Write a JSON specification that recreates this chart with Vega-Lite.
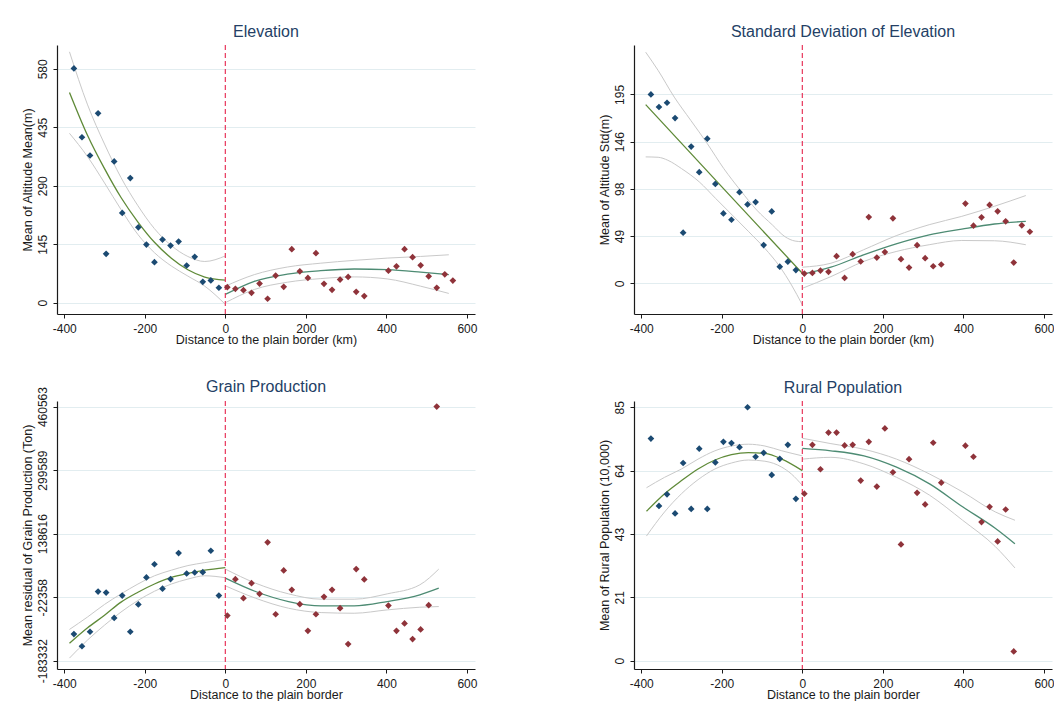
{
"$schema": "https://vega.github.io/schema/vega-lite/v6.json",
"background": "white",
"padding": {"left": 21, "top": 24, "right": 0, "bottom": 0},
"datasets": {
"a_pts": [
{"x":-376,"y":580.8,"side":"L"},{"x":-356,"y":410.3,"side":"L"},{"x":-336,"y":365,"side":"L"},{"x":-316,"y":469.6,"side":"L"},{"x":-296,"y":121.1,"side":"L"},{"x":-276,"y":350.2,"side":"L"},{"x":-256,"y":222.5,"side":"L"},{"x":-236,"y":309,"side":"L"},{"x":-216,"y":187,"side":"L"},{"x":-196,"y":144.2,"side":"L"},{"x":-176,"y":100.5,"side":"L"},{"x":-156,"y":156.5,"side":"L"},{"x":-136,"y":141.7,"side":"L"},{"x":-116,"y":151.6,"side":"L"},{"x":-96,"y":92.3,"side":"L"},{"x":-76,"y":113.7,"side":"L"},{"x":-56,"y":51.9,"side":"L"},{"x":-36,"y":55.2,"side":"L"},{"x":-16,"y":37.1,"side":"L"},
{"x":5,"y":38.5,"side":"R"},{"x":25,"y":34.4,"side":"R"},{"x":45,"y":31.1,"side":"R"},{"x":65,"y":24.6,"side":"R"},{"x":85,"y":47.5,"side":"R"},{"x":105,"y":9.8,"side":"R"},{"x":125,"y":67.2,"side":"R"},{"x":145,"y":39.3,"side":"R"},{"x":165,"y":132.7,"side":"R"},{"x":185,"y":77.8,"side":"R"},{"x":205,"y":61.4,"side":"R"},{"x":225,"y":122.9,"side":"R"},{"x":245,"y":46.7,"side":"R"},{"x":265,"y":32,"side":"R"},{"x":285,"y":57.3,"side":"R"},{"x":305,"y":63.9,"side":"R"},{"x":325,"y":27,"side":"R"},{"x":345,"y":16.4,"side":"R"},{"x":405,"y":79.5,"side":"R"},{"x":425,"y":90.1,"side":"R"},{"x":445,"y":132.7,"side":"R"},{"x":465,"y":113,"side":"R"},{"x":485,"y":92.6,"side":"R"},{"x":505,"y":65.5,"side":"R"},{"x":525,"y":36.9,"side":"R"},{"x":545,"y":70.5,"side":"R"},{"x":565,"y":54.9,"side":"R"}
],
"a_crv": [
{"x":-387,"y":521.5,"s":"Lfit"},{"x":-342,"y":414.7,"s":"Lfit"},{"x":-300,"y":332.4,"s":"Lfit"},{"x":-259,"y":260.8,"s":"Lfit"},{"x":-217,"y":200,"s":"Lfit"},{"x":-176,"y":149.8,"s":"Lfit"},{"x":-134,"y":110.3,"s":"Lfit"},{"x":-93,"y":81.6,"s":"Lfit"},{"x":-51,"y":63.5,"s":"Lfit"},{"x":0,"y":55.9,"s":"Lfit"},
{"x":-387,"y":622,"s":"Lhi"},{"x":-342,"y":490.5,"s":"Lhi"},{"x":-300,"y":393.4,"s":"Lhi"},{"x":-259,"y":310.2,"s":"Lhi"},{"x":-217,"y":240.4,"s":"Lhi"},{"x":-176,"y":183.6,"s":"Lhi"},{"x":-134,"y":141.6,"s":"Lhi"},{"x":-93,"y":114.6,"s":"Lhi"},{"x":-51,"y":102.2,"s":"Lhi"},{"x":0,"y":116,"s":"Lhi"},
{"x":-387,"y":420,"s":"Llo"},{"x":-342,"y":362,"s":"Llo"},{"x":-300,"y":297,"s":"Llo"},{"x":-259,"y":231,"s":"Llo"},{"x":-217,"y":169,"s":"Llo"},{"x":-176,"y":124,"s":"Llo"},{"x":-134,"y":91,"s":"Llo"},{"x":-93,"y":66,"s":"Llo"},{"x":-51,"y":41,"s":"Llo"},{"x":0,"y":-4,"s":"Llo"},
{"x":0,"y":20.5,"s":"Rfit"},{"x":72,"y":53,"s":"Rfit"},{"x":154,"y":71,"s":"Rfit"},{"x":237,"y":79.5,"s":"Rfit"},{"x":320,"y":83.6,"s":"Rfit"},{"x":402,"y":82,"s":"Rfit"},{"x":485,"y":76,"s":"Rfit"},{"x":555,"y":69.6,"s":"Rfit"},
{"x":0,"y":41,"s":"Rhi"},{"x":72,"y":69.6,"s":"Rhi"},{"x":154,"y":88.5,"s":"Rhi"},{"x":237,"y":98,"s":"Rhi"},{"x":320,"y":105,"s":"Rhi"},{"x":402,"y":110.6,"s":"Rhi"},{"x":485,"y":114.7,"s":"Rhi"},{"x":555,"y":118.8,"s":"Rhi"},
{"x":0,"y":0,"s":"Rlo"},{"x":72,"y":32.8,"s":"Rlo"},{"x":154,"y":50.8,"s":"Rlo"},{"x":237,"y":59.8,"s":"Rlo"},{"x":320,"y":64,"s":"Rlo"},{"x":402,"y":59,"s":"Rlo"},{"x":485,"y":41,"s":"Rlo"},{"x":555,"y":23,"s":"Rlo"}
],
"b_pts": [
{"x":-376,"y":195,"side":"L"},{"x":-356,"y":182,"side":"L"},{"x":-336,"y":186.4,"side":"L"},{"x":-316,"y":170.6,"side":"L"},{"x":-296,"y":52.2,"side":"L"},{"x":-276,"y":141.1,"side":"L"},{"x":-256,"y":114.7,"side":"L"},{"x":-236,"y":149.3,"side":"L"},{"x":-216,"y":102.6,"side":"L"},{"x":-196,"y":72.1,"side":"L"},{"x":-176,"y":65.6,"side":"L"},{"x":-156,"y":94.1,"side":"L"},{"x":-136,"y":81.4,"side":"L"},{"x":-116,"y":83.8,"side":"L"},{"x":-96,"y":39.5,"side":"L"},{"x":-76,"y":74.2,"side":"L"},{"x":-56,"y":17.2,"side":"L"},{"x":-36,"y":22.3,"side":"L"},{"x":-16,"y":13.7,"side":"L"},
{"x":5,"y":10,"side":"R"},{"x":25,"y":10.7,"side":"R"},{"x":45,"y":13.1,"side":"R"},{"x":65,"y":11.8,"side":"R"},{"x":85,"y":28,"side":"R"},{"x":105,"y":5.5,"side":"R"},{"x":125,"y":30.1,"side":"R"},{"x":145,"y":22.5,"side":"R"},{"x":165,"y":68.4,"side":"R"},{"x":185,"y":26.6,"side":"R"},{"x":205,"y":32.2,"side":"R"},{"x":225,"y":67.1,"side":"R"},{"x":245,"y":24.9,"side":"R"},{"x":265,"y":16.2,"side":"R"},{"x":285,"y":39.4,"side":"R"},{"x":305,"y":25.9,"side":"R"},{"x":325,"y":17.6,"side":"R"},{"x":345,"y":19.4,"side":"R"},{"x":405,"y":82.3,"side":"R"},{"x":425,"y":59.5,"side":"R"},{"x":445,"y":68.1,"side":"R"},{"x":465,"y":80.9,"side":"R"},{"x":485,"y":74.3,"side":"R"},{"x":505,"y":64,"side":"R"},{"x":525,"y":21.4,"side":"R"},{"x":545,"y":59.8,"side":"R"},{"x":565,"y":53.2,"side":"R"}
],
"b_crv": [
{"x":-389,"y":184.4,"s":"Lfit"},{"x":-194,"y":97,"s":"Lfit"},{"x":0,"y":10.3,"s":"Lfit"},
{"x":-389,"y":238.6,"s":"Lhi"},{"x":-358,"y":219.7,"s":"Lhi"},{"x":-318,"y":192.2,"s":"Lhi"},{"x":-277,"y":168.2,"s":"Lhi"},{"x":-236,"y":144.2,"s":"Lhi"},{"x":-195,"y":118.4,"s":"Lhi"},{"x":-154,"y":96.1,"s":"Lhi"},{"x":-113,"y":75.5,"s":"Lhi"},{"x":-74,"y":60.1,"s":"Lhi"},{"x":-43,"y":48.1,"s":"Lhi"},{"x":-18,"y":43.6,"s":"Lhi"},{"x":0,"y":42.9,"s":"Lhi"},
{"x":-389,"y":130.5,"s":"Llo"},{"x":-358,"y":130.1,"s":"Llo"},{"x":-334,"y":127,"s":"Llo"},{"x":-300,"y":118.4,"s":"Llo"},{"x":-256,"y":104.7,"s":"Llo"},{"x":-215,"y":87.5,"s":"Llo"},{"x":-174,"y":70.4,"s":"Llo"},{"x":-133,"y":53.2,"s":"Llo"},{"x":-93,"y":36,"s":"Llo"},{"x":-56,"y":17.2,"s":"Llo"},{"x":-27,"y":-1.7,"s":"Llo"},{"x":0,"y":-22.3,"s":"Llo"},
{"x":0,"y":9.3,"s":"Rfit"},{"x":71,"y":16.6,"s":"Rfit"},{"x":152,"y":29.4,"s":"Rfit"},{"x":233,"y":40.8,"s":"Rfit"},{"x":315,"y":50.1,"s":"Rfit"},{"x":396,"y":56,"s":"Rfit"},{"x":477,"y":61.2,"s":"Rfit"},{"x":555,"y":64,"s":"Rfit"},
{"x":0,"y":16.6,"s":"Rhi"},{"x":71,"y":20.7,"s":"Rhi"},{"x":152,"y":34.6,"s":"Rhi"},{"x":233,"y":49.1,"s":"Rhi"},{"x":315,"y":60.5,"s":"Rhi"},{"x":396,"y":69.1,"s":"Rhi"},{"x":477,"y":79.5,"s":"Rhi"},{"x":555,"y":90.6,"s":"Rhi"},
{"x":0,"y":-5.2,"s":"Rlo"},{"x":71,"y":6.9,"s":"Rlo"},{"x":152,"y":22.5,"s":"Rlo"},{"x":233,"y":32.8,"s":"Rlo"},{"x":315,"y":39.8,"s":"Rlo"},{"x":396,"y":44.2,"s":"Rlo"},{"x":477,"y":43.9,"s":"Rlo"},{"x":555,"y":39.8,"s":"Rlo"}
],
"c_pts": [
{"x":-376,"y":-115773,"side":"L"},{"x":-356,"y":-146633,"side":"L"},{"x":-336,"y":-109934,"side":"L"},{"x":-316,"y":-8179,"side":"L"},{"x":-296,"y":-10681,"side":"L"},{"x":-276,"y":-74904,"side":"L"},{"x":-256,"y":-18188,"side":"L"},{"x":-236,"y":-109934,"side":"L"},{"x":-216,"y":-40707,"side":"L"},{"x":-196,"y":27686,"side":"L"},{"x":-176,"y":61048,"side":"L"},{"x":-156,"y":-671,"side":"L"},{"x":-136,"y":23516,"side":"L"},{"x":-116,"y":89406,"side":"L"},{"x":-96,"y":37694,"side":"L"},{"x":-76,"y":40196,"side":"L"},{"x":-56,"y":41030,"side":"L"},{"x":-36,"y":95244,"side":"L"},{"x":-16,"y":-18188,"side":"L"},
{"x":5,"y":-68956,"side":"R"},{"x":25,"y":23392,"side":"R"},{"x":45,"y":-24900,"side":"R"},{"x":65,"y":13226,"side":"R"},{"x":85,"y":-13886,"side":"R"},{"x":105,"y":116588,"side":"R"},{"x":125,"y":-65567,"side":"R"},{"x":145,"y":45420,"side":"R"},{"x":165,"y":-3719,"side":"R"},{"x":185,"y":-40150,"side":"R"},{"x":205,"y":-107480,"side":"R"},{"x":225,"y":-65567,"side":"R"},{"x":245,"y":-21515,"side":"R"},{"x":265,"y":-3719,"side":"R"},{"x":285,"y":-50317,"side":"R"},{"x":305,"y":-141192,"side":"R"},{"x":325,"y":48809,"side":"R"},{"x":345,"y":22546,"side":"R"},{"x":405,"y":-43539,"side":"R"},{"x":425,"y":-107480,"side":"R"},{"x":445,"y":-88939,"side":"R"},{"x":465,"y":-128550,"side":"R"},{"x":485,"y":-104109,"side":"R"},{"x":505,"y":-42692,"side":"R"},{"x":525,"y":460563,"side":"R"}
],
"c_crv": [
{"x":-387,"y":-139126,"s":"Lfit"},{"x":-342,"y":-99924,"s":"Lfit"},{"x":-300,"y":-68231,"s":"Lfit"},{"x":-259,"y":-34869,"s":"Lfit"},{"x":-217,"y":-9847,"s":"Lfit"},{"x":-176,"y":11004,"s":"Lfit"},{"x":-134,"y":27686,"s":"Lfit"},{"x":-93,"y":37694,"s":"Lfit"},{"x":-51,"y":46033,"s":"Lfit"},{"x":0,"y":52707,"s":"Lfit"},
{"x":-387,"y":-104096,"s":"Lhi"},{"x":-342,"y":-72401,"s":"Lhi"},{"x":-300,"y":-40707,"s":"Lhi"},{"x":-259,"y":-14017,"s":"Lhi"},{"x":-217,"y":11004,"s":"Lhi"},{"x":-176,"y":31856,"s":"Lhi"},{"x":-134,"y":46033,"s":"Lhi"},{"x":-93,"y":57710,"s":"Lhi"},{"x":-51,"y":65217,"s":"Lhi"},{"x":0,"y":73557,"s":"Lhi"},
{"x":-387,"y":-176659,"s":"Llo"},{"x":-342,"y":-130786,"s":"Llo"},{"x":-300,"y":-93253,"s":"Llo"},{"x":-259,"y":-59891,"s":"Llo"},{"x":-217,"y":-30699,"s":"Llo"},{"x":-176,"y":-7345,"s":"Llo"},{"x":-134,"y":11004,"s":"Llo"},{"x":-93,"y":23515,"s":"Llo"},{"x":-51,"y":31856,"s":"Llo"},{"x":0,"y":27000,"s":"Llo"},
{"x":0,"y":25935,"s":"Rfit"},{"x":75,"y":-7955,"s":"Rfit"},{"x":157,"y":-33372,"s":"Rfit"},{"x":238,"y":-44386,"s":"Rfit"},{"x":320,"y":-44386,"s":"Rfit"},{"x":402,"y":-33372,"s":"Rfit"},{"x":483,"y":-16428,"s":"Rfit"},{"x":530,"y":521,"s":"Rfit"},
{"x":0,"y":48809,"s":"Rhi"},{"x":75,"y":13226,"s":"Rhi"},{"x":157,"y":-13886,"s":"Rhi"},{"x":238,"y":-27441,"s":"Rhi"},{"x":320,"y":-27441,"s":"Rhi"},{"x":402,"y":-13886,"s":"Rhi"},{"x":483,"y":8990,"s":"Rhi"},{"x":530,"y":48809,"s":"Rhi"},
{"x":0,"y":6448,"s":"Rlo"},{"x":75,"y":-24900,"s":"Rlo"},{"x":157,"y":-50317,"s":"Rlo"},{"x":238,"y":-61331,"s":"Rlo"},{"x":320,"y":-63025,"s":"Rlo"},{"x":402,"y":-54554,"s":"Rlo"},{"x":483,"y":-47776,"s":"Rlo"},{"x":530,"y":-46082,"s":"Rlo"}
],
"d_pts": [
{"x":-376,"y":74.5,"side":"L"},{"x":-356,"y":51.9,"side":"L"},{"x":-336,"y":55.8,"side":"L"},{"x":-316,"y":49.4,"side":"L"},{"x":-296,"y":66.3,"side":"L"},{"x":-276,"y":50.9,"side":"L"},{"x":-256,"y":71.1,"side":"L"},{"x":-236,"y":50.9,"side":"L"},{"x":-216,"y":66.5,"side":"L"},{"x":-196,"y":73.4,"side":"L"},{"x":-176,"y":73.0,"side":"L"},{"x":-156,"y":71.6,"side":"L"},{"x":-136,"y":85,"side":"L"},{"x":-116,"y":68.4,"side":"L"},{"x":-96,"y":69.7,"side":"L"},{"x":-76,"y":62.3,"side":"L"},{"x":-56,"y":67.7,"side":"L"},{"x":-36,"y":72.4,"side":"L"},{"x":-16,"y":54.3,"side":"L"},
{"x":5,"y":56,"side":"R"},{"x":25,"y":72.4,"side":"R"},{"x":45,"y":64.2,"side":"R"},{"x":65,"y":76.5,"side":"R"},{"x":85,"y":76.5,"side":"R"},{"x":105,"y":72.2,"side":"R"},{"x":125,"y":72.4,"side":"R"},{"x":145,"y":60.4,"side":"R"},{"x":165,"y":73.4,"side":"R"},{"x":185,"y":58.4,"side":"R"},{"x":205,"y":77.9,"side":"R"},{"x":225,"y":63.2,"side":"R"},{"x":245,"y":39,"side":"R"},{"x":265,"y":67.6,"side":"R"},{"x":285,"y":56.3,"side":"R"},{"x":305,"y":52.4,"side":"R"},{"x":325,"y":73.1,"side":"R"},{"x":345,"y":59.7,"side":"R"},{"x":405,"y":72.1,"side":"R"},{"x":425,"y":68.4,"side":"R"},{"x":445,"y":46.5,"side":"R"},{"x":465,"y":51.6,"side":"R"},{"x":485,"y":40,"side":"R"},{"x":505,"y":50.7,"side":"R"},{"x":525,"y":3.1,"side":"R"}
],
"d_crv": [
{"x":-387,"y":50.1,"s":"Lfit"},{"x":-342,"y":56,"s":"Lfit"},{"x":-300,"y":60.4,"s":"Lfit"},{"x":-259,"y":64.3,"s":"Lfit"},{"x":-217,"y":67.3,"s":"Lfit"},{"x":-176,"y":69.1,"s":"Lfit"},{"x":-134,"y":69.8,"s":"Lfit"},{"x":-93,"y":69.5,"s":"Lfit"},{"x":-51,"y":67.6,"s":"Lfit"},{"x":0,"y":63.75,"s":"Lfit"},
{"x":-387,"y":58,"s":"Lhi"},{"x":-342,"y":61.5,"s":"Lhi"},{"x":-300,"y":64.3,"s":"Lhi"},{"x":-259,"y":67.6,"s":"Lhi"},{"x":-217,"y":70.4,"s":"Lhi"},{"x":-176,"y":72,"s":"Lhi"},{"x":-134,"y":72.6,"s":"Lhi"},{"x":-93,"y":72,"s":"Lhi"},{"x":-51,"y":70.4,"s":"Lhi"},{"x":0,"y":68.7,"s":"Lhi"},
{"x":-387,"y":41.8,"s":"Llo"},{"x":-342,"y":49.9,"s":"Llo"},{"x":-300,"y":56,"s":"Llo"},{"x":-259,"y":60.7,"s":"Llo"},{"x":-217,"y":64.3,"s":"Llo"},{"x":-176,"y":66.3,"s":"Llo"},{"x":-134,"y":67.3,"s":"Llo"},{"x":-93,"y":66.9,"s":"Llo"},{"x":-51,"y":64.9,"s":"Llo"},{"x":-27,"y":62.6,"s":"Llo"},{"x":0,"y":58.8,"s":"Llo"},
{"x":0,"y":71.2,"s":"Rfit"},{"x":71,"y":70.4,"s":"Rfit"},{"x":153,"y":68.7,"s":"Rfit"},{"x":234,"y":64.9,"s":"Rfit"},{"x":316,"y":59.3,"s":"Rfit"},{"x":398,"y":51.6,"s":"Rfit"},{"x":479,"y":44.4,"s":"Rfit"},{"x":528,"y":39.2,"s":"Rfit"},
{"x":0,"y":74.6,"s":"Rhi"},{"x":71,"y":72.8,"s":"Rhi"},{"x":153,"y":70.9,"s":"Rhi"},{"x":234,"y":67.6,"s":"Rhi"},{"x":316,"y":62.6,"s":"Rhi"},{"x":398,"y":56.6,"s":"Rhi"},{"x":479,"y":49.9,"s":"Rhi"},{"x":528,"y":47.1,"s":"Rhi"},
{"x":0,"y":67.6,"s":"Rlo"},{"x":71,"y":68.2,"s":"Rlo"},{"x":153,"y":66,"s":"Rlo"},{"x":234,"y":61.5,"s":"Rlo"},{"x":316,"y":55.5,"s":"Rlo"},{"x":398,"y":47.1,"s":"Rlo"},{"x":479,"y":38.3,"s":"Rlo"},{"x":528,"y":31.1,"s":"Rlo"}
]
},
"columns": 2,
"bounds": "flush",
"spacing": {"row": 87, "column": 159},
"concat": [
{
"title": "Elevation",
"width": 418, "height": 269,
"layer": [
{"data": {"name": "a_crv"}, "transform": [{"filter": "indexof(datum.s, 'fit') < 0"}], "mark": {"type": "line", "interpolate": "monotone", "strokeWidth": 1, "color": "#c9c9c9"},
 "encoding": {"x": {"field": "x", "type": "quantitative", "scale": {"domain": [-418, 620], "nice": false, "zero": false}, "axis": {"values": [-400,-200,0,200,400,600], "title": "Distance to the plain border (km)"}},
  "y": {"field": "y", "type": "quantitative", "scale": {"domain": [-28, 639], "nice": false, "zero": false}, "axis": {"values": [0,145,290,435,580], "title": "Mean of Altitude Mean(m)"}},
  "detail": {"field": "s", "type": "nominal"}}},
{"data": {"name": "a_crv"}, "transform": [{"filter": "indexof(datum.s, 'fit') >= 0"}], "mark": {"type": "line", "interpolate": "monotone", "strokeWidth": 1.3},
 "encoding": {"x": {"field": "x", "type": "quantitative"}, "y": {"field": "y", "type": "quantitative"},
  "color": {"field": "s", "type": "nominal", "scale": {"domain": ["Lfit", "Rfit"], "range": ["#5f8a38", "#4d8b73"]}, "legend": null}}},
{"data": {"values": [{"x": 0}]}, "mark": {"type": "rule", "color": "#e8365b", "strokeDash": [5, 3], "strokeWidth": 1.2},
 "encoding": {"x": {"field": "x", "type": "quantitative"}}},
{"data": {"name": "a_pts"}, "mark": {"type": "point", "shape": "diamond", "filled": true, "size": 45, "opacity": 1},
 "encoding": {"x": {"field": "x", "type": "quantitative"}, "y": {"field": "y", "type": "quantitative"},
  "fill": {"field": "side", "type": "nominal", "scale": {"domain": ["L", "R"], "range": ["#1b4a72", "#8f333a"]}, "legend": null}}}
]
},
{
"title": "Standard Deviation of Elevation",
"width": 418, "height": 269,
"layer": [
{"data": {"name": "b_crv"}, "transform": [{"filter": "indexof(datum.s, 'fit') < 0"}], "mark": {"type": "line", "interpolate": "monotone", "strokeWidth": 1, "color": "#c9c9c9"},
 "encoding": {"x": {"field": "x", "type": "quantitative", "scale": {"domain": [-418, 620], "nice": false, "zero": false}, "axis": {"values": [-400,-200,0,200,400,600], "title": "Distance to the plain border (km)"}},
  "y": {"field": "y", "type": "quantitative", "scale": {"domain": [-31.7, 246], "nice": false, "zero": false}, "axis": {"values": [0,48.75,97.5,146.25,195], "format": ".0f", "title": "Mean of Altitude Std(m)"}},
  "detail": {"field": "s", "type": "nominal"}}},
{"data": {"name": "b_crv"}, "transform": [{"filter": "indexof(datum.s, 'fit') >= 0"}], "mark": {"type": "line", "interpolate": "monotone", "strokeWidth": 1.3},
 "encoding": {"x": {"field": "x", "type": "quantitative"}, "y": {"field": "y", "type": "quantitative"},
  "color": {"field": "s", "type": "nominal", "scale": {"domain": ["Lfit", "Rfit"], "range": ["#5f8a38", "#4d8b73"]}, "legend": null}}},
{"data": {"values": [{"x": 0}]}, "mark": {"type": "rule", "color": "#e8365b", "strokeDash": [5, 3], "strokeWidth": 1.2},
 "encoding": {"x": {"field": "x", "type": "quantitative"}}},
{"data": {"name": "b_pts"}, "mark": {"type": "point", "shape": "diamond", "filled": true, "size": 45, "opacity": 1},
 "encoding": {"x": {"field": "x", "type": "quantitative"}, "y": {"field": "y", "type": "quantitative"},
  "fill": {"field": "side", "type": "nominal", "scale": {"domain": ["L", "R"], "range": ["#1b4a72", "#8f333a"]}, "legend": null}}}
]
},
{
"title": {"text": "Grain Production", "dy": 12},
"width": 418, "height": 268,
"layer": [
{"data": {"name": "c_crv"}, "transform": [{"filter": "indexof(datum.s, 'fit') < 0"}], "mark": {"type": "line", "interpolate": "monotone", "strokeWidth": 1, "color": "#c9c9c9"},
 "encoding": {"x": {"field": "x", "type": "quantitative", "scale": {"domain": [-418, 620], "nice": false, "zero": false}, "axis": {"values": [-400,-200,0,200,400,600], "title": "Distance to the plain border"}},
  "y": {"field": "y", "type": "quantitative", "scale": {"domain": [-204300, 474700], "nice": false, "zero": false}, "axis": {"values": [-183332,-22358,138616,299589,460563], "format": "d", "title": "Mean residual of Grain Production (Ton)"}},
  "detail": {"field": "s", "type": "nominal"}}},
{"data": {"name": "c_crv"}, "transform": [{"filter": "indexof(datum.s, 'fit') >= 0"}], "mark": {"type": "line", "interpolate": "monotone", "strokeWidth": 1.3},
 "encoding": {"x": {"field": "x", "type": "quantitative"}, "y": {"field": "y", "type": "quantitative"},
  "color": {"field": "s", "type": "nominal", "scale": {"domain": ["Lfit", "Rfit"], "range": ["#5f8a38", "#4d8b73"]}, "legend": null}}},
{"data": {"values": [{"x": 0}]}, "mark": {"type": "rule", "color": "#e8365b", "strokeDash": [5, 3], "strokeWidth": 1.2},
 "encoding": {"x": {"field": "x", "type": "quantitative"}}},
{"data": {"name": "c_pts"}, "mark": {"type": "point", "shape": "diamond", "filled": true, "size": 45, "opacity": 1},
 "encoding": {"x": {"field": "x", "type": "quantitative"}, "y": {"field": "y", "type": "quantitative"},
  "fill": {"field": "side", "type": "nominal", "scale": {"domain": ["L", "R"], "range": ["#1b4a72", "#8f333a"]}, "legend": null}}}
]
},
{
"title": "Rural Population",
"width": 418, "height": 268,
"layer": [
{"data": {"name": "d_crv"}, "transform": [{"filter": "indexof(datum.s, 'fit') < 0"}], "mark": {"type": "line", "interpolate": "monotone", "strokeWidth": 1, "color": "#c9c9c9"},
 "encoding": {"x": {"field": "x", "type": "quantitative", "scale": {"domain": [-418, 620], "nice": false, "zero": false}, "axis": {"values": [-400,-200,0,200,400,600], "title": "Distance to the plain border"}},
  "y": {"field": "y", "type": "quantitative", "scale": {"domain": [-2.8, 87.1], "nice": false, "zero": false}, "axis": {"values": [0,21.25,42.5,63.75,85], "format": ".0f", "title": "Mean of Rural Population (10,000)"}},
  "detail": {"field": "s", "type": "nominal"}}},
{"data": {"name": "d_crv"}, "transform": [{"filter": "indexof(datum.s, 'fit') >= 0"}], "mark": {"type": "line", "interpolate": "monotone", "strokeWidth": 1.3},
 "encoding": {"x": {"field": "x", "type": "quantitative"}, "y": {"field": "y", "type": "quantitative"},
  "color": {"field": "s", "type": "nominal", "scale": {"domain": ["Lfit", "Rfit"], "range": ["#5f8a38", "#4d8b73"]}, "legend": null}}},
{"data": {"values": [{"x": 0}]}, "mark": {"type": "rule", "color": "#e8365b", "strokeDash": [5, 3], "strokeWidth": 1.2},
 "encoding": {"x": {"field": "x", "type": "quantitative"}}},
{"data": {"name": "d_pts"}, "mark": {"type": "point", "shape": "diamond", "filled": true, "size": 45, "opacity": 1},
 "encoding": {"x": {"field": "x", "type": "quantitative"}, "y": {"field": "y", "type": "quantitative"},
  "fill": {"field": "side", "type": "nominal", "scale": {"domain": ["L", "R"], "range": ["#1b4a72", "#8f333a"]}, "legend": null}}}
]
}
],
"config": {
 "font": "Liberation Sans",
 "view": {"stroke": null},
 "locale": {"number": {"decimal": ".", "thousands": ",", "grouping": [3], "currency": ["$", ""], "minus": "-"}},
 "title": {"font": "Liberation Sans", "fontSize": 16, "fontWeight": "normal", "color": "#243f66", "offset": 4, "anchor": "middle"},
 "axis": {"labelFont": "Liberation Sans", "labelFontSize": 12, "labelColor": "#1a1a1a", "titleFont": "Liberation Sans", "titleFontSize": 12.5, "titleFontWeight": "normal", "titleColor": "#1a1a1a", "domainColor": "#1a1a1a", "domainWidth": 1.2, "tickColor": "#1a1a1a", "tickSize": 4, "tickWidth": 1, "labelFlush": false, "labelOverlap": false, "grid": false},
 "axisX": {"labelPadding": 5, "titlePadding": -1},
 "axisY": {"grid": true, "gridColor": "#e2edf0", "gridWidth": 1, "labelAngle": -90, "labelAlign": "center", "labelBaseline": "bottom", "labelPadding": 4, "titlePadding": 2}
}
}
